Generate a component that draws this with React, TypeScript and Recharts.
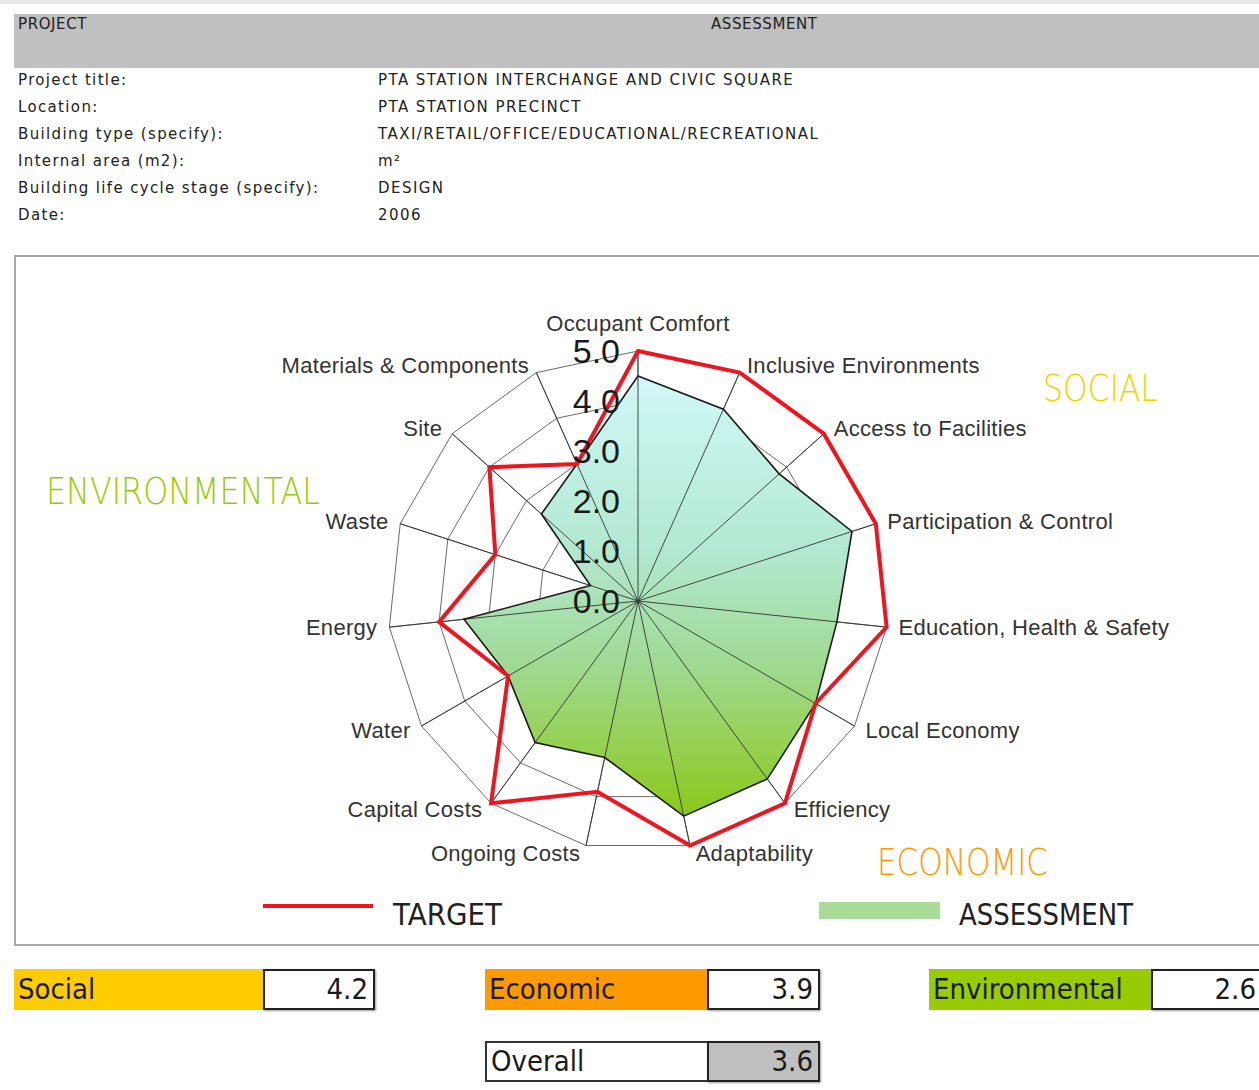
import React from 'react';
import { RadarChart, Radar, PolarGrid, PolarAngleAxis, PolarRadiusAxis, Legend } from 'recharts';

// criteria, clockwise from the top
const criteria = [
  'Occupant Comfort',
  'Inclusive Environments',
  'Access to Facilities',
  'Participation & Control',
  'Education, Health & Safety',
  'Local Economy',
  'Efficiency',
  'Adaptability',
  'Ongoing Costs',
  'Capital Costs',
  'Water',
  'Energy',
  'Waste',
  'Site',
  'Materials & Components',
];
const targetScores = [5.0, 5.0, 5.0, 5.0, 5.0, 4.1, 5.0, 5.0, 3.9, 5.0, 3.0, 4.0, 3.0, 4.0, 3.0];
const assessmentScores = [4.5, 4.2, 3.8, 4.5, 4.0, 4.1, 4.4, 4.4, 3.2, 3.5, 3.0, 3.5, 1.0, 2.6, 3.0];

const projectLabels = [
  'Project title:',
  'Location:',
  'Building type (specify):',
  'Internal area (m2):',
  'Building life cycle stage (specify):',
  'Date:',
];
const projectValues = [
  'PTA STATION INTERCHANGE AND CIVIC SQUARE',
  'PTA STATION PRECINCT',
  'TAXI/RETAIL/OFFICE/EDUCATIONAL/RECREATIONAL',
  'm²',
  'DESIGN',
  '2006',
];

const summaryNames = ['Social', 'Economic', 'Environmental'];
const summaryScores = ['4.2', '3.9', '2.6'];
const overallScore = '3.6';

const CX = 638;
const CY = 601;

const chartData = criteria.map((c, i) => ({
  criterion: c,
  target: targetScores[i],
  assessment: assessmentScores[i],
}));

const AngleTick = (props: any) => {
  const { x, y, payload, textAnchor } = props;
  const isTop = Math.abs(x - CX) < 2 && y < CY;
  const dx = textAnchor === 'start' ? 4 : textAnchor === 'end' ? -4 : 0;
  return (
    <text
      x={x + dx}
      y={isTop ? y - 20 : y}
      textAnchor={textAnchor}
      dominantBaseline="central"
      fontFamily="'Liberation Sans', Arial, sans-serif"
      fontSize={22}
      letterSpacing={0.3}
      fill="#333"
    >
      {payload.value}
    </text>
  );
};

const RadiusTick = (props: any) => {
  const { x, y, payload } = props;
  return (
    <text
      x={x - 18}
      y={y}
      textAnchor="end"
      dominantBaseline="central"
      fontFamily="'Liberation Sans', Arial, sans-serif"
      fontSize={34}
      fill="#1a1a1a"
    >
      {Number(payload.value).toFixed(1)}
    </text>
  );
};

const LegendContent = () => (
  <svg width={1259} height={60} style={{ display: 'block' }}>
    <line x1={263} y1={26} x2={373} y2={26} stroke="#f0141e" strokeWidth={4} />
    <text x={393} y={34} fontFamily="'DejaVu Sans', sans-serif" fontSize={30} fill="#222"
      textLength={109} lengthAdjust="spacingAndGlyphs" dominantBaseline="central">TARGET</text>
    <rect x={819} y={22} width={121} height={17} fill="#a8dc98" />
    <text x={959} y={34} fontFamily="'DejaVu Sans', sans-serif" fontSize={30} fill="#222"
      textLength={174} lengthAdjust="spacingAndGlyphs" dominantBaseline="central">ASSESSMENT</text>
  </svg>
);

const headerFont = "'DejaVu Sans', Verdana, sans-serif";
const boxFont = "'DejaVu Sans Condensed', 'DejaVu Sans', sans-serif";

const ScoreRow = ({ left, top, name, color, value, valueBg, nameWidth, width }: any) => (
  <div style={{ position: 'absolute', left, top, height: 41, display: 'flex' }}>
    <div
      style={{
        width: nameWidth,
        background: color,
        fontFamily: boxFont,
        fontSize: 29,
        color: '#1a1a1a',
        lineHeight: color === '#fff' ? '37px' : '41px',
        paddingLeft: 4,
        boxSizing: 'border-box',
        border: color === '#fff' ? '2px solid #333' : 'none',
        borderRight: 'none',
      }}
    >
      {name}
    </div>
    <div
      style={{
        width: width,
        background: valueBg,
        border: '2px solid #222',
        boxSizing: 'border-box',
        fontFamily: boxFont,
        fontSize: 29,
        color: '#1a1a1a',
        textAlign: 'right',
        paddingRight: 5,
        lineHeight: '37px',
        boxShadow: '1px 1px 2px #999',
      }}
    >
      {value}
    </div>
  </div>
);

export default function App() {
  return (
    <div style={{ position: 'absolute', left: 0, top: 0, width: 1259, height: 1090, overflow: 'hidden', background: '#fff' }}>
      {/* header */}
      <div style={{ position: 'absolute', left: 0, top: 0, width: 1259, height: 4, background: '#e8e8e8' }} />
      <div style={{ position: 'absolute', left: 14, top: 14, width: 1260, height: 54, background: '#c0c0c0' }} />
      <div style={{ position: 'absolute', left: 18, top: 15, fontFamily: headerFont, fontSize: 15, color: '#222', letterSpacing: 0.6 }}>PROJECT</div>
      <div style={{ position: 'absolute', left: 711, top: 15, fontFamily: headerFont, fontSize: 15, color: '#222', letterSpacing: 0.6 }}>ASSESSMENT</div>
      {projectLabels.map((l, i) => (
        <div key={l} style={{ position: 'absolute', left: 18, top: 71 + i * 27, fontFamily: headerFont, fontSize: 15, color: '#222', letterSpacing: 1.35, whiteSpace: 'nowrap' }}>{l}</div>
      ))}
      {projectValues.map((v, i) => (
        <div key={v} style={{ position: 'absolute', left: 378, top: 71 + i * 27, fontFamily: headerFont, fontSize: 15, color: '#222', letterSpacing: 1.45, whiteSpace: 'nowrap' }}>{v}</div>
      ))}

      {/* chart frame */}
      <div style={{ position: 'absolute', left: 14, top: 255, width: 1260, height: 691, border: '2px solid #a8a8a8', boxSizing: 'border-box' }} />

      <svg width={1259} height={1090} style={{ position: 'absolute', left: 0, top: 0 }}>
        <text x={1043} y={388} fontFamily="'DejaVu Sans', sans-serif" fontWeight={300} fontSize={37} fill="#f5cf00"
          textLength={115} lengthAdjust="spacingAndGlyphs" dominantBaseline="central">SOCIAL</text>
        <text x={46} y={491} fontFamily="'DejaVu Sans', sans-serif" fontWeight={300} fontSize={37} fill="#99cc00"
          textLength={274} lengthAdjust="spacingAndGlyphs" dominantBaseline="central">ENVIRONMENTAL</text>
        <text x={877} y={862} fontFamily="'DejaVu Sans', sans-serif" fontWeight={300} fontSize={37} fill="#ff9a00"
          textLength={171} lengthAdjust="spacingAndGlyphs" dominantBaseline="central">ECONOMIC</text>
      </svg>

      <div style={{ position: 'absolute', left: 0, top: 0 }}>
        <RadarChart
          width={1259}
          height={1090}
          data={chartData}
          cx={CX}
          cy={CY}
          outerRadius={250}
          startAngle={90}
          endAngle={-270}
          margin={{ top: 0, right: 0, bottom: 0, left: 0 }}
        >
          <defs>
            <linearGradient id="assessFill" x1="0" y1="0" x2="0" y2="1">
              <stop offset="0%" stopColor="#d0f8f8" />
              <stop offset="40%" stopColor="#b2e8d0" />
              <stop offset="65%" stopColor="#a0da94" />
              <stop offset="100%" stopColor="#8cc818" />
            </linearGradient>
          </defs>
          {/* full grid under the fill, spokes only above it */}
          <PolarGrid gridType="polygon" stroke="#444" strokeWidth={0.8} />
          <Radar dataKey="assessment" fill="url(#assessFill)" fillOpacity={1} stroke="none" isAnimationActive={false} legendType="none" zIndex={100} />
          <PolarGrid gridType="polygon" polarRadius={[0]} stroke="#333" strokeWidth={0.9} zIndex={150} />
          <PolarAngleAxis dataKey="criterion" tick={AngleTick} tickLine={false} axisLine={false} />
          <PolarRadiusAxis angle={90} domain={[0, 5]} tickCount={6} tick={RadiusTick} axisLine={false} tickLine={false} />
          <Radar dataKey="assessment" fill="none" stroke="#1a1a1a" strokeWidth={1.6} isAnimationActive={false} zIndex={250} />
          <Radar dataKey="target" fill="none" stroke="#f0141e" strokeWidth={4} isAnimationActive={false} zIndex={300} />
          <Legend content={LegendContent} wrapperStyle={{ left: 0, top: 880, width: 1259, height: 60 }} />
        </RadarChart>
      </div>

      {/* summary scores */}
      <ScoreRow left={14} top={969} name={summaryNames[0]} color="#ffcc00" value={summaryScores[0]} valueBg="#fff" nameWidth={249} width={112} />
      <ScoreRow left={485} top={969} name={summaryNames[1]} color="#ff9900" value={summaryScores[1]} valueBg="#fff" nameWidth={222} width={113} />
      <ScoreRow left={929} top={969} name={summaryNames[2]} color="#99cc00" value={summaryScores[2]} valueBg="#fff" nameWidth={222} width={112} />
      <ScoreRow left={485} top={1041} name="Overall" color="#fff" value={overallScore} valueBg="#c0c0c0" nameWidth={222} width={113} />
    </div>
  );
}
